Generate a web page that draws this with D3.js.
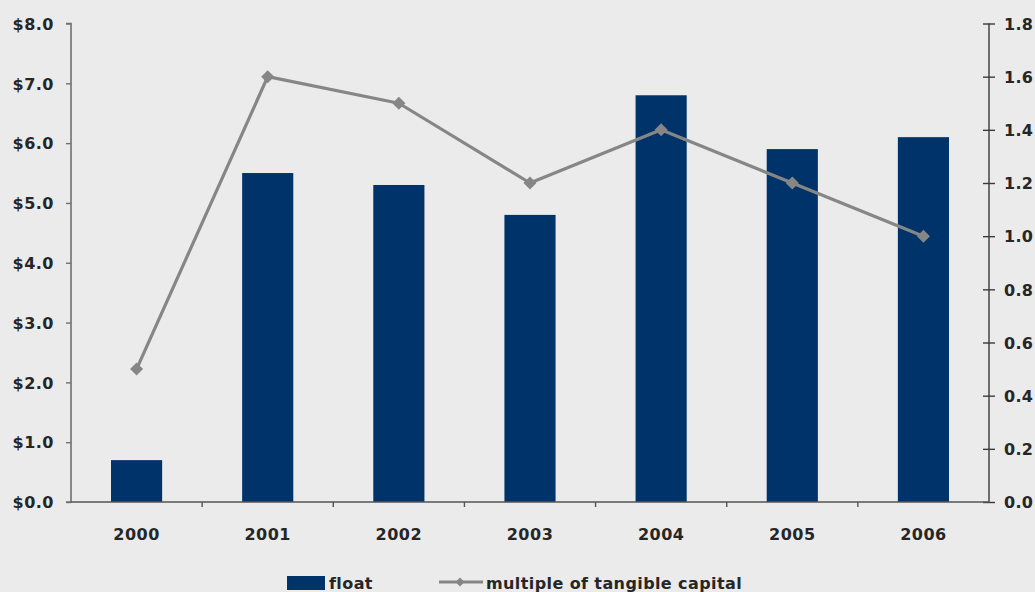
<!DOCTYPE html>
<html>
<head>
<meta charset="utf-8">
<script src="https://cdn.jsdelivr.net/npm/d3@7/dist/d3.min.js"></script>
<style>
  html, body { margin: 0; padding: 0; background: #ebebeb; }
  svg { display: block; }
  text { font-family: "DejaVu Sans", sans-serif; font-weight: bold; fill: #262626; }
</style>
</head>
<body>
<svg id="chart" width="1035" height="592"></svg>
<script>
const years = ["2000", "2001", "2002", "2003", "2004", "2005", "2006"];
const floatValues = [0.7, 5.5, 5.3, 4.8, 6.8, 5.9, 6.1];
const multipleValues = [0.5, 1.6, 1.5, 1.2, 1.4, 1.2, 1.0];
const leftTicks = [0, 1, 2, 3, 4, 5, 6, 7, 8];
const rightTicks = [0, 0.2, 0.4, 0.6, 0.8, 1.0, 1.2, 1.4, 1.6, 1.8];
const seriesNames = ["float", "multiple of tangible capital"];

(function () {
const svg = d3.select("#chart");
const pL = 71, pR = 989, pT = 23.5, pB = 502;
const barColor = "#00336a";
const lineColor = "#868686";

const x = d3.scaleBand().domain(years).range([pL, pR]).padding(0);
const yL = d3.scaleLinear().domain([0, 8]).range([pB, pT]);
const yR = d3.scaleLinear().domain([0, 1.8]).range([pB, pT]);
const barW = x.bandwidth() * 0.39;

// bars
svg.append("g").selectAll("rect").data(years).join("rect")
  .attr("x", (d) => x(d) + x.bandwidth() / 2 - barW / 2)
  .attr("width", barW)
  .attr("y", (d, i) => yL(floatValues[i]))
  .attr("height", (d, i) => pB - yL(floatValues[i]))
  .attr("fill", barColor);

// left axis
const gL = svg.append("g").attr("transform", `translate(${pL},0)`)
  .call(d3.axisLeft(yL).tickValues(leftTicks).tickSize(5).tickPadding(12)
    .tickFormat((d) => "$" + d3.format(".1f")(d)));
gL.select(".domain").attr("stroke", "#707070").attr("stroke-width", 1.6).attr("d", `M-5,${pT}H0V${pB}H-5`);
gL.selectAll(".tick line").attr("stroke", "#707070").attr("stroke-width", 1.4);
gL.selectAll(".tick text").style("font-size", "16px").style("letter-spacing", "0.5px")
  .attr("fill", "#262626").attr("dy", "0.36em");

// right axis
const gR = svg.append("g").attr("transform", `translate(${pR},0)`)
  .call(d3.axisRight(yR).tickValues(rightTicks).tickSize(6).tickPadding(9)
    .tickFormat(d3.format(".1f")));
gR.select(".domain").attr("stroke", "#3a3a3a").attr("stroke-width", 1.4).attr("d", `M0,${pT}V${pB}`);
gR.selectAll(".tick line").attr("x1", -6).attr("x2", 6).attr("stroke", "#3a3a3a").attr("stroke-width", 1.4);
gR.selectAll(".tick text").style("font-size", "16px").style("letter-spacing", "0.3px")
  .attr("fill", "#262626").attr("dy", "0.36em");

// x axis
const gX = svg.append("g");
gX.append("line").attr("x1", pL).attr("x2", pR).attr("y1", pB).attr("y2", pB)
  .attr("stroke", "#555").attr("stroke-width", 1.4);
gX.selectAll("line.tk").data(years.slice(1)).join("line").attr("class", "tk")
  .attr("x1", (d) => x(d)).attr("x2", (d) => x(d))
  .attr("y1", pB).attr("y2", pB + 5)
  .attr("stroke", "#555").attr("stroke-width", 1.4);
gX.selectAll("text").data(years).join("text")
  .attr("x", (d) => x(d) + x.bandwidth() / 2)
  .attr("y", 540)
  .attr("text-anchor", "middle")
  .style("font-size", "16px").style("letter-spacing", "0.5px")
  .text((d) => d);

// line
const line = d3.line().x((d, i) => x(years[i]) + x.bandwidth() / 2).y((d) => yR(d));
svg.append("path").datum(multipleValues).attr("d", line)
  .attr("fill", "none").attr("stroke", lineColor).attr("stroke-width", 3.2)
  .attr("stroke-linejoin", "round");
const diamond = d3.symbol().type(d3.symbolSquare).size(85);
svg.append("g").selectAll("path").data(multipleValues).join("path")
  .attr("d", diamond)
  .attr("transform", (d, i) => `translate(${x(years[i]) + x.bandwidth() / 2},${yR(d)}) rotate(45)`)
  .attr("fill", lineColor);

// legend
const lg = svg.append("g");
lg.append("rect").attr("x", 287).attr("y", 576).attr("width", 38).attr("height", 14).attr("fill", barColor);
lg.append("text").attr("x", 329).attr("y", 589).style("font-size", "16px").style("letter-spacing", "0.4px").text(seriesNames[0]);
lg.append("line").attr("x1", 439).attr("x2", 483).attr("y1", 582).attr("y2", 582)
  .attr("stroke", lineColor).attr("stroke-width", 3.2);
lg.append("path").attr("d", d3.symbol().type(d3.symbolSquare).size(40)())
  .attr("transform", "translate(460,582) rotate(45)").attr("fill", lineColor);
lg.append("text").attr("x", 486).attr("y", 589).style("font-size", "16px").style("letter-spacing", "0.4px").text(seriesNames[1]);
})();
</script>
</body>
</html>
